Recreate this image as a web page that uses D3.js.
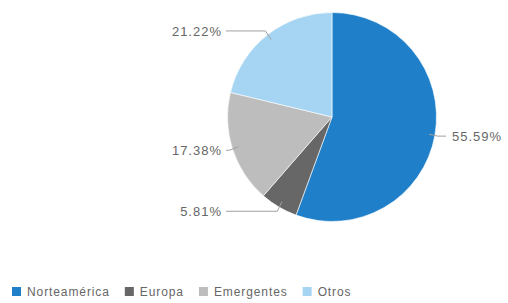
<!DOCTYPE html>
<html><head><meta charset="utf-8">
<script src="https://cdn.jsdelivr.net/npm/d3@7"></script>
<style>body{margin:0;background:#fff;}svg{display:block;font-family:"Liberation Sans",Arial,sans-serif;}</style>
</head><body>
<svg id="c" width="508" height="303"></svg>
<script>
const categories = ["Norteamérica", "Europa", "Emergentes", "Otros"];
const values = [55.59, 5.81, 17.38, 21.22];
const labels = ["55.59%", "5.81%", "17.38%", "21.22%"];
const colors = ["#1f80c9", "#676767", "#bdbdbd", "#a6d5f3"];

const svg = d3.select("#c");
const cx = 332, cy = 117, r = 104.5;
const pie = d3.pie().sort(null).value(d => d)(values);
const arc = d3.arc().innerRadius(0).outerRadius(r);
const color = d3.scaleOrdinal().domain(categories).range(colors);

const g = svg.append("g").attr("transform", `translate(${cx},${cy})`);
g.selectAll("path.slice").data(pie).join("path")
  .attr("class","slice")
  .attr("d", arc)
  .attr("fill", (d,i) => color(categories[i]))
  .attr("stroke", "#fff").attr("stroke-width", 0.6);

// labels & connectors
pie.forEach((d,i) => {
  const a = (d.startAngle + d.endAngle)/2;
  const sx = Math.sin(a), sy = -Math.cos(a);
  const right = sx > 0;
  const ly = (r + 5) * sy;
  const tx = right ? 120 : -110;
  const ex = (r + 3) * sx;
  const px = (r - 6) * sx, py = (r - 6) * sy;
  const lineStart = right ? tx - 6 : tx + 4;
  g.append("polyline")
    .attr("points", [[lineStart, ly], [ex, ly], [px, py]].map(p=>p.join(",")).join(" "))
    .attr("fill","none").attr("stroke","#a0a0a0").attr("stroke-width",1);
  g.append("text")
    .attr("x", tx).attr("y", ly).attr("dy","0.35em")
    .attr("text-anchor", right ? "start" : "end")
    .attr("font-size", 13).attr("letter-spacing", "1px")
    .attr("fill", "#666")
    .text(labels[i]);
});

// legend
const leg = svg.append("g").attr("transform","translate(12,287)");
let x = 0;
categories.forEach((c,i) => {
  const it = leg.append("g").attr("transform", `translate(${x},0)`);
  it.append("rect").attr("width",9).attr("height",9).attr("fill", color(c));
  const t = it.append("text").attr("x",15).attr("y",9)
    .attr("font-size",12).attr("letter-spacing","0.9px").attr("fill","#666").text(c);
  x += 15 + t.node().getComputedTextLength() + 15;
});
</script>
</body></html>
